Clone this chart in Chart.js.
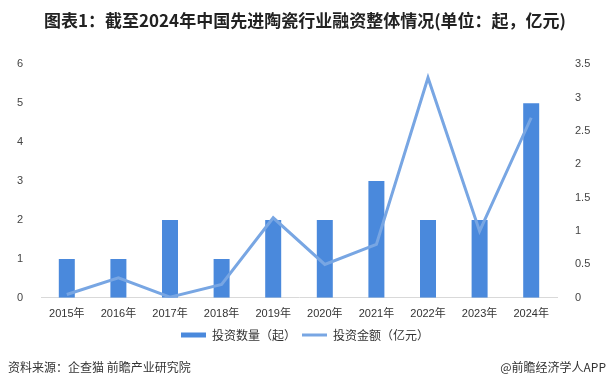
<!DOCTYPE html>
<html>
<head>
<meta charset="utf-8">
<script src="https://cdn.jsdelivr.net/npm/chart.js@4.4.1/dist/chart.umd.min.js"></script>
<style>
  html, body { margin: 0; padding: 0; background: #fff; }
  #wrap { position: relative; width: 610px; height: 388px; }
  .foot { position: absolute; top: 358px; font: 12px "Noto Sans CJK SC", sans-serif; color: #333; }
  #src { left: 8px; }
  #brand { right: 4px; }
</style>
</head>
<body>
<div id="wrap">
  <canvas id="chart" width="610" height="388"></canvas>
  <div class="foot" id="src">资料来源：企查猫 前瞻产业研究院</div>
  <div class="foot" id="brand">@前瞻经济学人APP</div>
</div>
<script>
const years = ["2015年", "2016年", "2017年", "2018年", "2019年", "2020年", "2021年", "2022年", "2023年", "2024年"];
const dealCounts = [1, 1, 2, 1, 2, 2, 3, 2, 2, 5];
const dealAmounts = [0.05, 0.3, 0.01, 0.2, 1.2, 0.5, 0.8, 3.3, 1.0, 2.7];

const barColor = "#4a89dc";
const lineColor = "#78a6e3";
const tickFont = { family: "'Liberation Sans', 'Noto Sans CJK SC', sans-serif", size: 11 };

const ctx = document.getElementById("chart").getContext("2d");
new Chart(ctx, {
  type: "bar",
  data: {
    labels: years,
    datasets: [
      {
        label: "投资数量（起）",
        data: dealCounts,
        backgroundColor: barColor,
        yAxisID: "y",
        categoryPercentage: 1,
        barPercentage: 0.31,
        order: 1,
      },
      {
        type: "line",
        label: "投资金额（亿元）",
        data: dealAmounts,
        borderColor: lineColor,
        backgroundColor: lineColor,
        borderWidth: 3,
        pointRadius: 0,
        tension: 0,
        yAxisID: "y1",
        order: 0,
      },
    ],
  },
  options: {
    responsive: false,
    animation: false,
    layout: { padding: { left: 0, right: 0, top: 0, bottom: 37 } },
    plugins: {
      title: {
        display: true,
        text: "图表1：截至2024年中国先进陶瓷行业融资整体情况(单位：起，亿元)",
        color: "#222",
        font: { family: "'Noto Sans CJK SC', sans-serif", size: 17, weight: "bold" },
        padding: { top: 10, bottom: 34 },
      },
      legend: {
        position: "bottom",
        labels: {
          color: "#333",
          font: { family: "'Noto Sans CJK SC', sans-serif", size: 12 },
          usePointStyle: true,
          pointStyleWidth: 25,
          boxHeight: 5,
          padding: 6,
          generateLabels: (chart) =>
            chart.data.datasets.map((ds, i) => ({
              text: ds.label,
              datasetIndex: i,
              fillStyle: ds.type === "line" ? ds.borderColor : ds.backgroundColor,
              strokeStyle: ds.type === "line" ? ds.borderColor : ds.backgroundColor,
              lineWidth: ds.type === "line" ? 3 : 0,
              pointStyle: ds.type === "line" ? "line" : "rect",
              fontColor: "#333",
            })),
        },
      },
      tooltip: { enabled: false },
    },
    scales: {
      x: {
        grid: { display: false },
        border: { color: "#d9d9d9" },
        ticks: { color: "#333", font: tickFont, padding: 2, maxRotation: 0 },
      },
      y: {
        position: "left",
        min: 0,
        max: 6,
        ticks: { stepSize: 1, color: "#444", font: tickFont, padding: 10 },
        grid: { display: false },
        border: { display: false },
        afterFit: (scale) => { scale.width = 41; },
      },
      y1: {
        position: "right",
        min: 0,
        max: 3.5,
        ticks: {
          stepSize: 0.5,
          color: "#444",
          font: tickFont,
          padding: 10,
          callback: (value) => String(value),
        },
        grid: { display: false },
        border: { display: false },
        afterFit: (scale) => { scale.width = 53; },
      },
    },
  },
});
</script>
</body>
</html>
